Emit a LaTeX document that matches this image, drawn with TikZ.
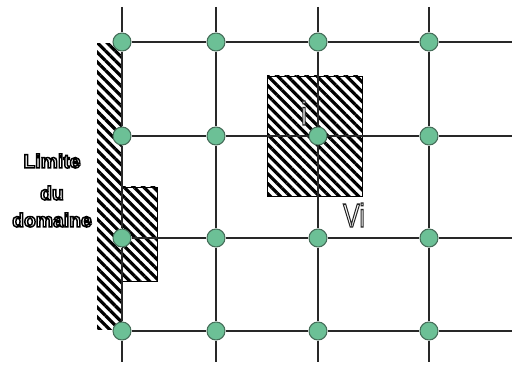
\documentclass[tikz,border=0pt]{standalone}
\usepackage{fontspec}
\setmainfont{Liberation Sans}
\usetikzlibrary{patterns.meta}
\definecolor{nodegreen}{RGB}{108,192,150}
\definecolor{nodeedge}{RGB}{70,110,90}
\definecolor{gridline}{RGB}{40,40,40}
\newcommand{\hollowtext}[2][0 G 1.1 w]{{\color{white}\special{pdf:code q 2 Tr #1}#2\special{pdf:code Q}}}
\tikzset{
  dot/.style={circle, fill=nodegreen, draw=nodeedge, line width=0.8pt, minimum size=13.5pt, inner sep=0pt},
  gridln/.style={draw=gridline, line width=1.1pt},
  hatch/.style={pattern={Lines[angle=-45,distance=5.2pt,line width=2.4pt]}},
  hatchbox/.style={hatch, draw=black, line width=0.5pt},
  bigtxt/.style={font=\fontsize{14.5pt}{16pt}\bfseries, inner sep=0pt},
  slimtxt/.style={font=\fontsize{25pt}{28pt}\selectfont, inner sep=0pt, xscale=0.75}
}
\begin{document}
\begin{tikzpicture}[x=0.75pt,y=-0.75pt]
\useasboundingbox (0,0) rectangle (512,367);
% hatched regions
\fill[hatch] (97,44) rectangle (122,330);
\path[hatchbox] (122,187) rectangle (157,281);
\path[hatchbox] (267,76) rectangle (362,196);
% grid nodes
\foreach \c/\x in {1/122,2/216,3/318,4/429}{
  \foreach \r/\y in {1/42,2/136,3/238,4/331}{
    \node[dot] (n\c\r) at (\x,\y) {};
  }
  \coordinate (top\c) at (\x,7);
  \coordinate (bot\c) at (\x,362);
}
\foreach \r/\y in {1/42,2/136,3/238,4/331}{
  \coordinate (right\r) at (512,\y);
}
% grid lines
\foreach \c in {1,2,3,4}{
  \draw[gridln] (top\c) -- (n\c1) -- (n\c2) -- (n\c3) -- (n\c4) -- (bot\c);
}
\foreach \r in {1,2,3,4}{
  \draw[gridln] (n1\r) -- (n2\r) -- (n3\r) -- (n4\r) -- (right\r);
}
% labels
\node[bigtxt] (lim) at (52,161) {\hollowtext{Limite}};
\node[bigtxt] (du) at (52,193) {\hollowtext{du}};
\node[bigtxt] (dom) at (52,220) {\hollowtext{domaine}};
\node[slimtxt] (ilab) at (304,113) {\hollowtext[0.15 G 1.0 w]{i}};
\node[slimtxt] (vilab) at (354,215) {\hollowtext[0.15 G 1.0 w]{Vi}};
\end{tikzpicture}
\end{document}
